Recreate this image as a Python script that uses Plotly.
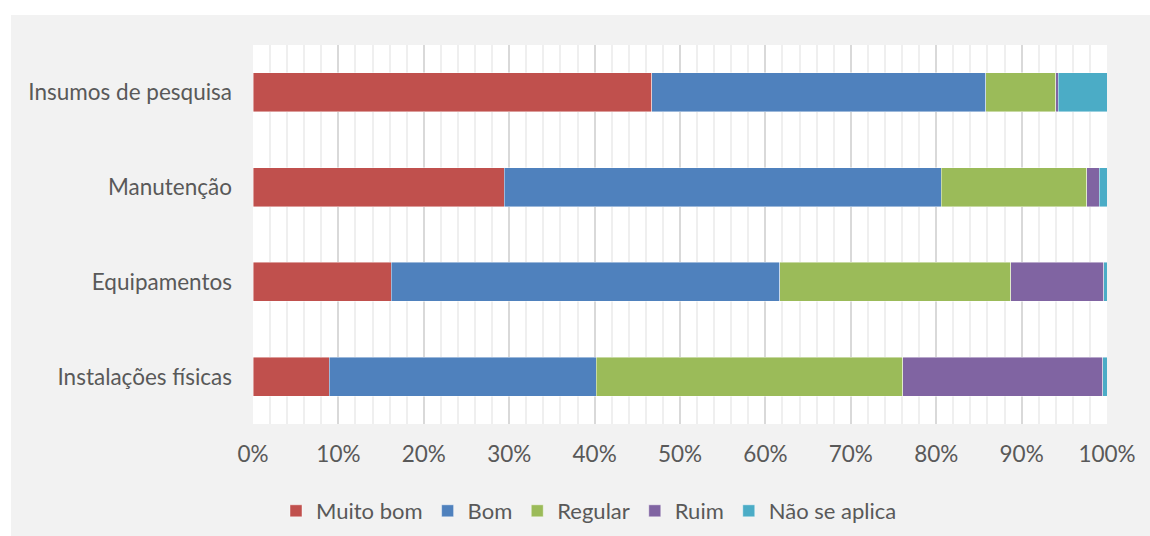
import plotly.graph_objects as go

# Survey ratings per infrastructure item (percent of answers)
categories = ["Insumos de pesquisa", "Manutenção", "Equipamentos", "Instalações físicas"]
muito_bom = [46.7, 29.4, 16.2, 8.9]
bom = [39.1, 51.2, 45.5, 31.3]
regular = [8.2, 17.0, 27.0, 35.9]
ruim = [0.3, 1.5, 10.9, 23.4]
nao_se_aplica = [5.7, 0.9, 0.4, 0.5]

series = [
    ("Muito bom", muito_bom, "#c0504d"),
    ("Bom", bom, "#4f81bd"),
    ("Regular", regular, "#9bbb59"),
    ("Ruim", ruim, "#8064a2"),
    ("Não se aplica", nao_se_aplica, "#4bacc6"),
]

FONT = "Lato"
TEXT = "#595959"
W, H = 1150, 536
L, R, T, B = 253, 43, 45, 112
PW, PH = W - L - R, H - T - B

fig = go.Figure()
for name, vals, color in series:
    fig.add_trace(go.Bar(
        y=categories, x=vals, name=name, orientation="h",
        marker=dict(color=color, line=dict(color="rgba(255,255,255,0.55)", width=0.8)),
    ))

# white frame around the grey chart area (top and left strips)
def px_x(px):
    return (px - L) / PW

def px_y(py):
    return (H - B - py) / PH

fig.add_shape(type="rect", xref="paper", yref="paper", layer="below",
              x0=px_x(0), x1=px_x(11), y0=px_y(H), y1=px_y(0),
              fillcolor="white", line_width=0)
fig.add_shape(type="rect", xref="paper", yref="paper", layer="below",
              x0=px_x(0), x1=px_x(W), y0=px_y(15), y1=px_y(0),
              fillcolor="white", line_width=0)

fig.update_layout(
    width=W, height=H,
    margin=dict(l=L, r=R, t=T, b=B, pad=0, autoexpand=False),
    paper_bgcolor="#f2f2f2",
    plot_bgcolor="white",
    barmode="stack",
    bargap=0.59,
    font=dict(family=FONT, size=22.5, color=TEXT),
    showlegend=True,
    legend=dict(
        orientation="h", x=px_x(276), xanchor="left", y=px_y(511), yanchor="middle",
        font=dict(family=FONT, size=22, color=TEXT),
        itemwidth=30, bgcolor="rgba(0,0,0,0)", traceorder="normal",
    ),
    xaxis=dict(
        range=[0, 100], dtick=10, ticksuffix="%",
        showgrid=True, gridcolor="#d9d9d9", gridwidth=1.5,
        minor=dict(dtick=2, showgrid=True, gridcolor="#efefef", gridwidth=1.5),
        zeroline=False, showline=False, ticks="",
        ticklabelstandoff=14, fixedrange=True, automargin=False,
        tickfont=dict(family=FONT, size=22.5, color=TEXT),
    ),
    yaxis=dict(
        autorange="reversed", showgrid=False, zeroline=False, showline=False,
        ticks="", ticklabelstandoff=20, automargin=False,
        tickfont=dict(family=FONT, size=22.5, color=TEXT),
    ),
)

fig.write_html("out.html")
